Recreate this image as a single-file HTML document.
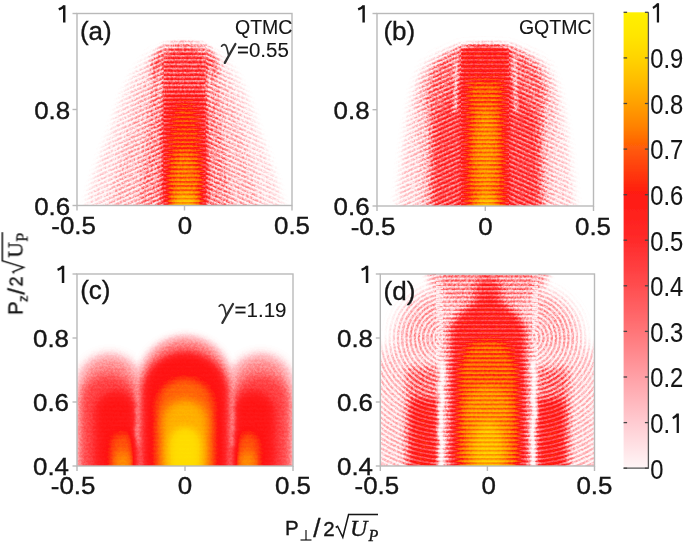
<!DOCTYPE html>
<html><head><meta charset="utf-8">
<style>
html,body{margin:0;padding:0;background:#fff;width:685px;height:544px;overflow:hidden}
svg{display:block}
text{font-family:"Liberation Sans",sans-serif;fill:#141414;stroke:#141414;stroke-width:0.35px}
text.th{stroke-width:0.1px}
text.si{font-family:"Liberation Serif",serif;font-style:italic}
text.sr{font-family:"Liberation Serif",serif}
</style></head><body>
<svg width="685" height="544" viewBox="0 0 685 544">
<defs>
  <linearGradient id="cbar" x1="0" y1="0" x2="0" y2="1"><stop offset="0" stop-color="#fff000"/><stop offset="0.05" stop-color="#ffe600"/><stop offset="0.1" stop-color="#ffd400"/><stop offset="0.15" stop-color="#ffbc00"/><stop offset="0.2" stop-color="#ffa000"/><stop offset="0.25" stop-color="#ff8200"/><stop offset="0.3" stop-color="#ff5a08"/><stop offset="0.35" stop-color="#ff3a0c"/><stop offset="0.4" stop-color="#ff1a12"/><stop offset="0.5" stop-color="#ff2a2a"/><stop offset="0.6" stop-color="#ff4d4f"/><stop offset="0.7" stop-color="#ff7578"/><stop offset="0.8" stop-color="#ffa0a6"/><stop offset="0.9" stop-color="#ffcbd1"/><stop offset="1" stop-color="#fff6f7"/></linearGradient>
  <clipPath id="cpa"><rect x="77" y="13" width="215" height="193"/></clipPath>
  <clipPath id="cpb"><rect x="377" y="13" width="217" height="193"/></clipPath>
  <clipPath id="cpc"><rect x="77" y="274" width="216" height="192"/></clipPath>
  <clipPath id="cpd"><rect x="380" y="274" width="215" height="192"/></clipPath>
<filter id="tblur" filterUnits="userSpaceOnUse" x="0" y="0" width="685" height="544"><feGaussianBlur stdDeviation="0.35"/></filter><filter id="cma" filterUnits="userSpaceOnUse" x="0" y="0" width="685" height="544" color-interpolation-filters="sRGB">
<feGaussianBlur in="SourceGraphic" stdDeviation="0.5" result="B0"/>
<feColorMatrix in="B0" type="matrix" values="1 0 0 0 0  1 0 0 0 0  1 0 0 0 0  0 0 0 0 1" result="I0"/>
<feColorMatrix in="B0" type="matrix" values="0 0 1.0 0 0  0 0 1.0 0 0  0 0 1.0 0 0  0 0 0 0 1" result="S"/>
<feColorMatrix in="B0" type="matrix" values="0 0 -1.0 0 1  0 0 -1.0 0 1  0 0 -1.0 0 1  0 0 0 0 1" result="Si"/>
<feTurbulence type="fractalNoise" baseFrequency="0.45" numOctaves="2" seed="3" result="T"/>
<feColorMatrix in="T" type="matrix" values="3 0 0 0 -1  3 0 0 0 -1  3 0 0 0 -1  0 0 0 0 1" result="N0"/>
<feColorMatrix in="N0" type="matrix" values="0.55 0 0 0 0.22499999999999998  0.55 0 0 0 0.22499999999999998  0.55 0 0 0 0.22499999999999998  0 0 0 0 1" result="N"/>
<feColorMatrix in="N0" type="matrix" values="-0.55 0 0 0 0.775  -0.55 0 0 0 0.775  -0.55 0 0 0 0.775  0 0 0 0 1" result="Ni"/>
<feComponentTransfer in="I0" result="H"><feFuncR type="table" tableValues="0 0.22 0.40 0.50 0.57 0.62 0.66 0.75 0.83 0.92 1.0"/><feFuncG type="table" tableValues="0 0.22 0.40 0.50 0.57 0.62 0.66 0.75 0.83 0.92 1.0"/><feFuncB type="table" tableValues="0 0.22 0.40 0.50 0.57 0.62 0.66 0.75 0.83 0.92 1.0"/><feFuncA type="linear" slope="0" intercept="1"/></feComponentTransfer>
<feComponentTransfer in="I0" result="L"><feFuncR type="table" tableValues="0 0.0 0.02 0.10 0.24 0.40 0.54 0.66 0.76 0.88 1.0"/><feFuncG type="table" tableValues="0 0.0 0.02 0.10 0.24 0.40 0.54 0.66 0.76 0.88 1.0"/><feFuncB type="table" tableValues="0 0.0 0.02 0.10 0.24 0.40 0.54 0.66 0.76 0.88 1.0"/><feFuncA type="linear" slope="0" intercept="1"/></feComponentTransfer>
<feComposite in="H" in2="N" operator="arithmetic" k1="1" k2="0" k3="0" k4="0" result="HN"/>
<feComposite in="L" in2="Ni" operator="arithmetic" k1="1" k2="0" k3="0" k4="0" result="LN"/>
<feComposite in="HN" in2="LN" operator="arithmetic" k1="0" k2="1" k3="1" k4="0" result="I1"/>
<feComponentTransfer in="I1" result="F"><feFuncR type="table" tableValues="0 0.02 0.06 0.12 0.2 0.3 0.42 0.6 0.72 0.82 0.9"/><feFuncG type="table" tableValues="0 0.02 0.06 0.12 0.2 0.3 0.42 0.6 0.72 0.82 0.9"/><feFuncB type="table" tableValues="0 0.02 0.06 0.12 0.2 0.3 0.42 0.6 0.72 0.82 0.9"/><feFuncA type="linear" slope="0" intercept="1"/></feComponentTransfer>
<feComponentTransfer in="I1" result="G"><feFuncR type="table" tableValues="0 0.14 0.26 0.37 0.47 0.56 0.64 0.74 0.84 0.93 1.0"/><feFuncG type="table" tableValues="0 0.14 0.26 0.37 0.47 0.56 0.64 0.74 0.84 0.93 1.0"/><feFuncB type="table" tableValues="0 0.14 0.26 0.37 0.47 0.56 0.64 0.74 0.84 0.93 1.0"/><feFuncA type="linear" slope="0" intercept="1"/></feComponentTransfer>
<feComposite in="F" in2="S" operator="arithmetic" k1="1" k2="0" k3="0" k4="0" result="A"/>
<feComposite in="G" in2="Si" operator="arithmetic" k1="1" k2="0" k3="0" k4="0" result="Bq"/>
<feComposite in="A" in2="Bq" operator="arithmetic" k1="0" k2="1" k3="1" k4="0" result="J"/>
<feComponentTransfer in="J"><feFuncR type="table" tableValues="1 1 1 1 1 1 1 1 1 1 1"/><feFuncG type="table" tableValues="1 0.80 0.64 0.46 0.30 0.16 0.07 0.34 0.62 0.83 0.95"/><feFuncB type="table" tableValues="1 0.82 0.65 0.47 0.31 0.17 0.07 0.04 0.0 0 0"/><feFuncA type="linear" slope="0" intercept="1"/></feComponentTransfer>
</filter><filter id="cmb" filterUnits="userSpaceOnUse" x="0" y="0" width="685" height="544" color-interpolation-filters="sRGB">
<feGaussianBlur in="SourceGraphic" stdDeviation="0.5" result="B0"/>
<feColorMatrix in="B0" type="matrix" values="1 0 0 0 0  1 0 0 0 0  1 0 0 0 0  0 0 0 0 1" result="I0"/>
<feColorMatrix in="B0" type="matrix" values="0 0 1.0 0 0  0 0 1.0 0 0  0 0 1.0 0 0  0 0 0 0 1" result="S"/>
<feColorMatrix in="B0" type="matrix" values="0 0 -1.0 0 1  0 0 -1.0 0 1  0 0 -1.0 0 1  0 0 0 0 1" result="Si"/>
<feTurbulence type="fractalNoise" baseFrequency="0.45" numOctaves="2" seed="5" result="T"/>
<feColorMatrix in="T" type="matrix" values="3 0 0 0 -1  3 0 0 0 -1  3 0 0 0 -1  0 0 0 0 1" result="N0"/>
<feColorMatrix in="N0" type="matrix" values="0.55 0 0 0 0.22499999999999998  0.55 0 0 0 0.22499999999999998  0.55 0 0 0 0.22499999999999998  0 0 0 0 1" result="N"/>
<feColorMatrix in="N0" type="matrix" values="-0.55 0 0 0 0.775  -0.55 0 0 0 0.775  -0.55 0 0 0 0.775  0 0 0 0 1" result="Ni"/>
<feComponentTransfer in="I0" result="H"><feFuncR type="table" tableValues="0 0.22 0.40 0.50 0.57 0.62 0.66 0.75 0.83 0.92 1.0"/><feFuncG type="table" tableValues="0 0.22 0.40 0.50 0.57 0.62 0.66 0.75 0.83 0.92 1.0"/><feFuncB type="table" tableValues="0 0.22 0.40 0.50 0.57 0.62 0.66 0.75 0.83 0.92 1.0"/><feFuncA type="linear" slope="0" intercept="1"/></feComponentTransfer>
<feComponentTransfer in="I0" result="L"><feFuncR type="table" tableValues="0 0.0 0.02 0.10 0.24 0.40 0.54 0.66 0.76 0.88 1.0"/><feFuncG type="table" tableValues="0 0.0 0.02 0.10 0.24 0.40 0.54 0.66 0.76 0.88 1.0"/><feFuncB type="table" tableValues="0 0.0 0.02 0.10 0.24 0.40 0.54 0.66 0.76 0.88 1.0"/><feFuncA type="linear" slope="0" intercept="1"/></feComponentTransfer>
<feComposite in="H" in2="N" operator="arithmetic" k1="1" k2="0" k3="0" k4="0" result="HN"/>
<feComposite in="L" in2="Ni" operator="arithmetic" k1="1" k2="0" k3="0" k4="0" result="LN"/>
<feComposite in="HN" in2="LN" operator="arithmetic" k1="0" k2="1" k3="1" k4="0" result="I1"/>
<feComponentTransfer in="I1" result="F"><feFuncR type="table" tableValues="0 0.02 0.06 0.12 0.2 0.3 0.42 0.6 0.72 0.82 0.9"/><feFuncG type="table" tableValues="0 0.02 0.06 0.12 0.2 0.3 0.42 0.6 0.72 0.82 0.9"/><feFuncB type="table" tableValues="0 0.02 0.06 0.12 0.2 0.3 0.42 0.6 0.72 0.82 0.9"/><feFuncA type="linear" slope="0" intercept="1"/></feComponentTransfer>
<feComponentTransfer in="I1" result="G"><feFuncR type="table" tableValues="0 0.14 0.26 0.37 0.47 0.56 0.64 0.74 0.84 0.93 1.0"/><feFuncG type="table" tableValues="0 0.14 0.26 0.37 0.47 0.56 0.64 0.74 0.84 0.93 1.0"/><feFuncB type="table" tableValues="0 0.14 0.26 0.37 0.47 0.56 0.64 0.74 0.84 0.93 1.0"/><feFuncA type="linear" slope="0" intercept="1"/></feComponentTransfer>
<feComposite in="F" in2="S" operator="arithmetic" k1="1" k2="0" k3="0" k4="0" result="A"/>
<feComposite in="G" in2="Si" operator="arithmetic" k1="1" k2="0" k3="0" k4="0" result="Bq"/>
<feComposite in="A" in2="Bq" operator="arithmetic" k1="0" k2="1" k3="1" k4="0" result="J"/>
<feComponentTransfer in="J"><feFuncR type="table" tableValues="1 1 1 1 1 1 1 1 1 1 1"/><feFuncG type="table" tableValues="1 0.80 0.64 0.46 0.30 0.16 0.07 0.34 0.62 0.83 0.95"/><feFuncB type="table" tableValues="1 0.82 0.65 0.47 0.31 0.17 0.07 0.04 0.0 0 0"/><feFuncA type="linear" slope="0" intercept="1"/></feComponentTransfer>
</filter><filter id="cmc" filterUnits="userSpaceOnUse" x="0" y="0" width="685" height="544" color-interpolation-filters="sRGB">
<feGaussianBlur in="SourceGraphic" stdDeviation="0.8" result="B0"/>
<feColorMatrix in="B0" type="matrix" values="1 0 0 0 0  1 0 0 0 0  1 0 0 0 0  0 0 0 0 1" result="I0"/>
<feColorMatrix in="B0" type="matrix" values="0 0 0.3 0 0  0 0 0.3 0 0  0 0 0.3 0 0  0 0 0 0 1" result="S"/>
<feColorMatrix in="B0" type="matrix" values="0 0 -0.3 0 1  0 0 -0.3 0 1  0 0 -0.3 0 1  0 0 0 0 1" result="Si"/>
<feTurbulence type="fractalNoise" baseFrequency="0.45" numOctaves="2" seed="7" result="T"/>
<feColorMatrix in="T" type="matrix" values="3 0 0 0 -1  3 0 0 0 -1  3 0 0 0 -1  0 0 0 0 1" result="N0"/>
<feColorMatrix in="N0" type="matrix" values="0.15 0 0 0 0.425  0.15 0 0 0 0.425  0.15 0 0 0 0.425  0 0 0 0 1" result="N"/>
<feColorMatrix in="N0" type="matrix" values="-0.15 0 0 0 0.575  -0.15 0 0 0 0.575  -0.15 0 0 0 0.575  0 0 0 0 1" result="Ni"/>
<feComponentTransfer in="I0" result="H"><feFuncR type="table" tableValues="0 0.22 0.40 0.50 0.57 0.62 0.66 0.75 0.83 0.92 1.0"/><feFuncG type="table" tableValues="0 0.22 0.40 0.50 0.57 0.62 0.66 0.75 0.83 0.92 1.0"/><feFuncB type="table" tableValues="0 0.22 0.40 0.50 0.57 0.62 0.66 0.75 0.83 0.92 1.0"/><feFuncA type="linear" slope="0" intercept="1"/></feComponentTransfer>
<feComponentTransfer in="I0" result="L"><feFuncR type="table" tableValues="0 0.0 0.02 0.10 0.24 0.40 0.54 0.66 0.76 0.88 1.0"/><feFuncG type="table" tableValues="0 0.0 0.02 0.10 0.24 0.40 0.54 0.66 0.76 0.88 1.0"/><feFuncB type="table" tableValues="0 0.0 0.02 0.10 0.24 0.40 0.54 0.66 0.76 0.88 1.0"/><feFuncA type="linear" slope="0" intercept="1"/></feComponentTransfer>
<feComposite in="H" in2="N" operator="arithmetic" k1="1" k2="0" k3="0" k4="0" result="HN"/>
<feComposite in="L" in2="Ni" operator="arithmetic" k1="1" k2="0" k3="0" k4="0" result="LN"/>
<feComposite in="HN" in2="LN" operator="arithmetic" k1="0" k2="1" k3="1" k4="0" result="I1"/>
<feComponentTransfer in="I1" result="F"><feFuncR type="table" tableValues="0 0.02 0.06 0.12 0.2 0.3 0.42 0.6 0.72 0.82 0.9"/><feFuncG type="table" tableValues="0 0.02 0.06 0.12 0.2 0.3 0.42 0.6 0.72 0.82 0.9"/><feFuncB type="table" tableValues="0 0.02 0.06 0.12 0.2 0.3 0.42 0.6 0.72 0.82 0.9"/><feFuncA type="linear" slope="0" intercept="1"/></feComponentTransfer>
<feComponentTransfer in="I1" result="G"><feFuncR type="table" tableValues="0 0.14 0.26 0.37 0.47 0.56 0.64 0.74 0.84 0.93 1.0"/><feFuncG type="table" tableValues="0 0.14 0.26 0.37 0.47 0.56 0.64 0.74 0.84 0.93 1.0"/><feFuncB type="table" tableValues="0 0.14 0.26 0.37 0.47 0.56 0.64 0.74 0.84 0.93 1.0"/><feFuncA type="linear" slope="0" intercept="1"/></feComponentTransfer>
<feComposite in="F" in2="S" operator="arithmetic" k1="1" k2="0" k3="0" k4="0" result="A"/>
<feComposite in="G" in2="Si" operator="arithmetic" k1="1" k2="0" k3="0" k4="0" result="Bq"/>
<feComposite in="A" in2="Bq" operator="arithmetic" k1="0" k2="1" k3="1" k4="0" result="J"/>
<feComponentTransfer in="J"><feFuncR type="table" tableValues="1 1 1 1 1 1 1 1 1 1 1"/><feFuncG type="table" tableValues="1 0.80 0.64 0.46 0.30 0.16 0.07 0.34 0.62 0.83 0.95"/><feFuncB type="table" tableValues="1 0.82 0.65 0.47 0.31 0.17 0.07 0.04 0.0 0 0"/><feFuncA type="linear" slope="0" intercept="1"/></feComponentTransfer>
</filter><filter id="cmd" filterUnits="userSpaceOnUse" x="0" y="0" width="685" height="544" color-interpolation-filters="sRGB">
<feGaussianBlur in="SourceGraphic" stdDeviation="0.5" result="B0"/>
<feColorMatrix in="B0" type="matrix" values="1 0 0 0 0  1 0 0 0 0  1 0 0 0 0  0 0 0 0 1" result="I0"/>
<feColorMatrix in="B0" type="matrix" values="0 0 1.0 0 0  0 0 1.0 0 0  0 0 1.0 0 0  0 0 0 0 1" result="S"/>
<feColorMatrix in="B0" type="matrix" values="0 0 -1.0 0 1  0 0 -1.0 0 1  0 0 -1.0 0 1  0 0 0 0 1" result="Si"/>
<feTurbulence type="fractalNoise" baseFrequency="0.45" numOctaves="2" seed="9" result="T"/>
<feColorMatrix in="T" type="matrix" values="3 0 0 0 -1  3 0 0 0 -1  3 0 0 0 -1  0 0 0 0 1" result="N0"/>
<feColorMatrix in="N0" type="matrix" values="0.45 0 0 0 0.275  0.45 0 0 0 0.275  0.45 0 0 0 0.275  0 0 0 0 1" result="N"/>
<feColorMatrix in="N0" type="matrix" values="-0.45 0 0 0 0.725  -0.45 0 0 0 0.725  -0.45 0 0 0 0.725  0 0 0 0 1" result="Ni"/>
<feComponentTransfer in="I0" result="H"><feFuncR type="table" tableValues="0 0.22 0.40 0.50 0.57 0.62 0.66 0.75 0.83 0.92 1.0"/><feFuncG type="table" tableValues="0 0.22 0.40 0.50 0.57 0.62 0.66 0.75 0.83 0.92 1.0"/><feFuncB type="table" tableValues="0 0.22 0.40 0.50 0.57 0.62 0.66 0.75 0.83 0.92 1.0"/><feFuncA type="linear" slope="0" intercept="1"/></feComponentTransfer>
<feComponentTransfer in="I0" result="L"><feFuncR type="table" tableValues="0 0.0 0.02 0.10 0.24 0.40 0.54 0.66 0.76 0.88 1.0"/><feFuncG type="table" tableValues="0 0.0 0.02 0.10 0.24 0.40 0.54 0.66 0.76 0.88 1.0"/><feFuncB type="table" tableValues="0 0.0 0.02 0.10 0.24 0.40 0.54 0.66 0.76 0.88 1.0"/><feFuncA type="linear" slope="0" intercept="1"/></feComponentTransfer>
<feComposite in="H" in2="N" operator="arithmetic" k1="1" k2="0" k3="0" k4="0" result="HN"/>
<feComposite in="L" in2="Ni" operator="arithmetic" k1="1" k2="0" k3="0" k4="0" result="LN"/>
<feComposite in="HN" in2="LN" operator="arithmetic" k1="0" k2="1" k3="1" k4="0" result="I1"/>
<feComponentTransfer in="I1" result="F"><feFuncR type="table" tableValues="0 0.02 0.06 0.12 0.2 0.3 0.42 0.6 0.72 0.82 0.9"/><feFuncG type="table" tableValues="0 0.02 0.06 0.12 0.2 0.3 0.42 0.6 0.72 0.82 0.9"/><feFuncB type="table" tableValues="0 0.02 0.06 0.12 0.2 0.3 0.42 0.6 0.72 0.82 0.9"/><feFuncA type="linear" slope="0" intercept="1"/></feComponentTransfer>
<feComponentTransfer in="I1" result="G"><feFuncR type="table" tableValues="0 0.14 0.26 0.37 0.47 0.56 0.64 0.74 0.84 0.93 1.0"/><feFuncG type="table" tableValues="0 0.14 0.26 0.37 0.47 0.56 0.64 0.74 0.84 0.93 1.0"/><feFuncB type="table" tableValues="0 0.14 0.26 0.37 0.47 0.56 0.64 0.74 0.84 0.93 1.0"/><feFuncA type="linear" slope="0" intercept="1"/></feComponentTransfer>
<feComposite in="F" in2="S" operator="arithmetic" k1="1" k2="0" k3="0" k4="0" result="A"/>
<feComposite in="G" in2="Si" operator="arithmetic" k1="1" k2="0" k3="0" k4="0" result="Bq"/>
<feComposite in="A" in2="Bq" operator="arithmetic" k1="0" k2="1" k3="1" k4="0" result="J"/>
<feComponentTransfer in="J"><feFuncR type="table" tableValues="1 1 1 1 1 1 1 1 1 1 1"/><feFuncG type="table" tableValues="1 0.80 0.64 0.46 0.30 0.16 0.07 0.34 0.62 0.83 0.95"/><feFuncB type="table" tableValues="1 0.82 0.65 0.47 0.31 0.17 0.07 0.04 0.0 0 0"/><feFuncA type="linear" slope="0" intercept="1"/></feComponentTransfer>
</filter><clipPath id="cpdl"><rect x="370" y="270" width="73" height="200"/></clipPath><clipPath id="cpdr"><rect x="532" y="270" width="80" height="200"/></clipPath><pattern id="phs" x="0" y="0.3" width="10" height="4.2" patternUnits="userSpaceOnUse"><rect x="0" y="0" width="10" height="2" fill="#00f"/></pattern><pattern id="pdl" x="0" y="0" width="10" height="4.2" patternUnits="userSpaceOnUse" patternTransform="rotate(-24)"><rect x="0" y="0" width="10" height="2" fill="#00f"/></pattern><pattern id="pdr" x="0" y="0" width="10" height="4.2" patternUnits="userSpaceOnUse" patternTransform="rotate(24)"><rect x="0" y="0" width="10" height="2" fill="#00f"/></pattern><filter id="b1" filterUnits="userSpaceOnUse" x="0" y="0" width="685" height="544" color-interpolation-filters="sRGB"><feGaussianBlur stdDeviation="1"/></filter><filter id="b1.5" filterUnits="userSpaceOnUse" x="0" y="0" width="685" height="544" color-interpolation-filters="sRGB"><feGaussianBlur stdDeviation="1.5"/></filter><filter id="b2" filterUnits="userSpaceOnUse" x="0" y="0" width="685" height="544" color-interpolation-filters="sRGB"><feGaussianBlur stdDeviation="2"/></filter><filter id="b3" filterUnits="userSpaceOnUse" x="0" y="0" width="685" height="544" color-interpolation-filters="sRGB"><feGaussianBlur stdDeviation="3"/></filter><filter id="b4" filterUnits="userSpaceOnUse" x="0" y="0" width="685" height="544" color-interpolation-filters="sRGB"><feGaussianBlur stdDeviation="4"/></filter><filter id="b5" filterUnits="userSpaceOnUse" x="0" y="0" width="685" height="544" color-interpolation-filters="sRGB"><feGaussianBlur stdDeviation="5"/></filter><filter id="b6" filterUnits="userSpaceOnUse" x="0" y="0" width="685" height="544" color-interpolation-filters="sRGB"><feGaussianBlur stdDeviation="6"/></filter><filter id="b7" filterUnits="userSpaceOnUse" x="0" y="0" width="685" height="544" color-interpolation-filters="sRGB"><feGaussianBlur stdDeviation="7"/></filter><filter id="b8" filterUnits="userSpaceOnUse" x="0" y="0" width="685" height="544" color-interpolation-filters="sRGB"><feGaussianBlur stdDeviation="8"/></filter><filter id="b9" filterUnits="userSpaceOnUse" x="0" y="0" width="685" height="544" color-interpolation-filters="sRGB"><feGaussianBlur stdDeviation="9"/></filter><filter id="b10" filterUnits="userSpaceOnUse" x="0" y="0" width="685" height="544" color-interpolation-filters="sRGB"><feGaussianBlur stdDeviation="10"/></filter>
</defs>
<g clip-path="url(#cpa)"><g filter="url(#cma)">
<rect x="57" y="-7" width="255" height="233" fill="#000"/>
<path filter="url(#b4)" d="M160.5,47 Q184.5,41 208.5,47 L221.5,56 L235.5,74 L245.5,94 L252.5,113 L257.5,130 L265.5,150 L275.5,180 L282.5,206 L282.5,212 L86.5,212 L86.5,206 L93.5,180 L103.5,150 L111.5,130 L116.5,113 L123.5,94 L133.5,74 L147.5,56 Z" fill="rgb(15,15,15)"/>
<path filter="url(#b4)" d="M163.5,48 Q184.5,42 205.5,48 L213.5,58 L222.5,76 L230.5,94 L236.5,113 L240.5,130 L246.5,150 L253.5,180 L259.5,206 L259.5,212 L109.5,212 L109.5,206 L115.5,180 L122.5,150 L128.5,130 L132.5,113 L138.5,94 L146.5,76 L155.5,58 Z" fill="rgb(33,33,33)"/>
<path filter="url(#b3)" d="M164.5,47 Q184.5,41 204.5,47 L209.5,52 L212.5,60 L215.5,80 L218.5,100 L221.5,130 L225.5,160 L229.5,206 L229.5,212 L139.5,212 L139.5,206 L143.5,160 L147.5,130 L150.5,100 L153.5,80 L156.5,60 L159.5,52 Z" fill="rgb(64,64,64)"/>
<ellipse filter="url(#b3)" cx="184.5" cy="68" rx="33" ry="22" fill="rgb(87,87,87)"/>
<path filter="url(#b1.5)" d="M160,68 L160.5,112" fill="none" stroke="rgb(31,31,31)" stroke-width="3"/>
<path filter="url(#b1.5)" d="M209.5,68 L209,112" fill="none" stroke="rgb(31,31,31)" stroke-width="3"/>
<path filter="url(#b2)" d="M163.5,212 L163.5,64 A21.0,14 0 0 1 205.5,64 L205.5,212 Z" fill="rgb(117,117,117)"/>
<path filter="url(#b4)" d="M164,95 L205,95 L206,212 L163,212 Z" fill="rgb(148,148,148)"/>
<ellipse filter="url(#b5)" cx="185" cy="165" rx="17" ry="65" fill="rgb(173,173,173)"/>
<ellipse filter="url(#b5)" cx="185" cy="185" rx="14" ry="36" fill="rgb(194,194,194)"/>
<ellipse filter="url(#b4)" cx="185" cy="204" rx="13" ry="12" fill="rgb(217,217,217)"/>
<rect x="57" y="-7" width="255" height="233" fill="#ffff00" style="mix-blend-mode:multiply"/>
<g style="mix-blend-mode:screen">
<rect x="60" y="0" width="103.5" height="230" fill="url(#pdl)"/>
<rect x="163.5" y="0" width="42" height="230" fill="url(#phs)"/>
<rect x="205.5" y="0" width="110" height="230" fill="url(#pdr)"/>
</g>
</g></g>
<g clip-path="url(#cpb)"><g filter="url(#cmb)">
<rect x="357" y="-7" width="257" height="233" fill="#000"/>
<path filter="url(#b5)" d="M456,47 Q486,41 516,47 L532.0,53 L548.0,66 L554.0,79 L558.0,92 L561.0,106 L565.0,130 L569.0,160 L574.0,206 L574.0,212 L398.0,212 L398.0,206 L403.0,160 L407.0,130 L411.0,106 L414.0,92 L418.0,79 L424.0,66 L440.0,53 Z" fill="rgb(20,20,20)"/>
<path filter="url(#b3)" d="M458,48 Q486,42 514,48 L526.0,54 L542.0,66 L549.0,79 L553.0,92 L554.0,106 L553.0,130 L552.0,206 L552.0,212 L420.0,212 L420.0,206 L419.0,130 L418.0,106 L419.0,92 L423.0,79 L430.0,66 L446.0,54 Z" fill="rgb(36,36,36)"/>
<path filter="url(#b3)" d="M459,49 Q486,43 513,49 L524.0,56 L536.0,66 L542.0,79 L545.0,92 L544.0,106 L541.0,130 L539.0,206 L539.0,212 L433.0,212 L433.0,206 L431.0,130 L428.0,106 L427.0,92 L430.0,79 L436.0,66 L448.0,56 Z" fill="rgb(87,87,87)"/>
<path filter="url(#b5)" d="M456,80 L516,80 L538,120 L541,212 L431,212 L434,120 Z" fill="rgb(117,117,117)"/>
<path filter="url(#b1.5)" d="M456.5,56 L455,112" fill="none" stroke="rgb(31,31,31)" stroke-width="3"/>
<path filter="url(#b1.5)" d="M514.5,56 L516,112" fill="none" stroke="rgb(31,31,31)" stroke-width="3"/>
<path filter="url(#b2)" d="M461,212 L461,50 A24.0,4 0 0 1 509,50 L509,212 Z" fill="rgb(148,148,148)"/>
<path filter="url(#b4)" d="M469,80 L502,80 L504,212 L467,212 Z" fill="rgb(186,186,186)"/>
<ellipse filter="url(#b5)" cx="486" cy="155" rx="11" ry="50" fill="rgb(204,204,204)"/>
<ellipse filter="url(#b4)" cx="486" cy="205" rx="11" ry="10" fill="rgb(219,219,219)"/>
<rect x="357" y="-7" width="257" height="233" fill="#ffff00" style="mix-blend-mode:multiply"/>
<g style="mix-blend-mode:screen">
<rect x="360" y="0" width="101" height="230" fill="url(#pdl)"/>
<rect x="461" y="0" width="48" height="230" fill="url(#phs)"/>
<rect x="509" y="0" width="110" height="230" fill="url(#pdr)"/>
</g>
</g></g>
<g clip-path="url(#cpc)"><g filter="url(#cmc)">
<rect x="57" y="254" width="256" height="232" fill="#000"/>
<path filter="url(#b6)" d="M79,475 L79,386 A30.5,30 0 0 1 140,386 L140,475 Z" fill="rgb(56,56,56)"/>
<path filter="url(#b5)" d="M81,475 L81,402 A28.0,28 0 0 1 137,402 L137,475 Z" fill="rgb(102,102,102)"/>
<path filter="url(#b4)" d="M96,475 L96,412 A20.0,20 0 0 1 136,412 L136,475 Z" fill="rgb(145,145,145)"/>
<path filter="url(#b5)" d="M110,475 L110,444 A12.0,12 0 0 1 134,444 L134,475 Z" fill="rgb(173,173,173)"/>
<path filter="url(#b4)" d="M115,475 L115,460 A8.0,8 0 0 1 131,460 L131,475 Z" fill="rgb(194,194,194)"/>
<path filter="url(#b6)" d="M230,475 L230,386 A30.5,30 0 0 1 291,386 L291,475 Z" fill="rgb(56,56,56)"/>
<path filter="url(#b5)" d="M233,475 L233,402 A28.0,28 0 0 1 289,402 L289,475 Z" fill="rgb(102,102,102)"/>
<path filter="url(#b4)" d="M234,475 L234,412 A20.0,20 0 0 1 274,412 L274,475 Z" fill="rgb(145,145,145)"/>
<path filter="url(#b5)" d="M236,475 L236,444 A12.0,12 0 0 1 260,444 L260,475 Z" fill="rgb(173,173,173)"/>
<path filter="url(#b4)" d="M239,475 L239,460 A8.0,8 0 0 1 255,460 L255,475 Z" fill="rgb(194,194,194)"/>
<path filter="url(#b1.5)" d="M138.3,378.0 L138.9,382.2 L139.7,386.4 L137.4,390.6 L140.7,394.8 L137.3,399.0 L139.9,403.2 L140.2,407.4 L137.3,411.6 L140.0,415.8 L138.5,420.0 L139.3,424.2 L137.2,428.4 L137.4,432.6 L137.9,436.8 L140.6,441.0 L137.9,445.2" fill="none" stroke="rgb(31,31,31)" stroke-width="4"/>
<path filter="url(#b1.5)" d="M231.9,378.0 L232.5,382.2 L232.6,386.4 L230.4,390.6 L230.5,394.8 L231.1,399.0 L232.0,403.2 L229.6,407.4 L231.9,411.6 L232.1,415.8 L232.3,420.0 L229.3,424.2 L232.6,428.4 L229.5,432.6 L230.4,436.8 L231.4,441.0 L232.5,445.2" fill="none" stroke="rgb(31,31,31)" stroke-width="4"/>
<path filter="url(#b5)" d="M140,475 L140,383 A45.0,45 0 0 1 230,383 L230,475 Z" fill="rgb(64,64,64)"/>
<path filter="url(#b4)" d="M142,475 L142,394 A43.0,42 0 0 1 228,394 L228,475 Z" fill="rgb(148,148,148)"/>
<path filter="url(#b5)" d="M156,475 L156,407 A29.0,29 0 0 1 214,407 L214,475 Z" fill="rgb(178,178,178)"/>
<path filter="url(#b5)" d="M163,475 L163,422 A22.0,22 0 0 1 207,422 L207,475 Z" fill="rgb(209,209,209)"/>
<path filter="url(#b5)" d="M170,475 L170,443 A15.0,15 0 0 1 200,443 L200,475 Z" fill="rgb(237,237,237)"/>
<rect x="57" y="254" width="256" height="232" fill="#ffff00" style="mix-blend-mode:multiply"/>
<g style="mix-blend-mode:screen">
<rect x="60" y="260" width="250" height="220" fill="url(#phs)"/>
</g>
</g></g>
<g clip-path="url(#cpd)"><g filter="url(#cmd)">
<rect x="360" y="254" width="255" height="232" fill="#000"/>
<ellipse filter="url(#b8)" cx="446" cy="340" rx="50" ry="50" fill="rgb(38,38,38)"/>
<ellipse filter="url(#b8)" cx="529" cy="340" rx="50" ry="50" fill="rgb(38,38,38)"/>
<rect filter="url(#b8)" x="375" y="350" width="225" height="130" fill="rgb(26,26,26)"/>
<rect filter="url(#b4)" x="407" y="368" width="32" height="110" fill="rgb(87,87,87)"/>
<rect filter="url(#b4)" x="536" y="368" width="32" height="110" fill="rgb(87,87,87)"/>
<rect filter="url(#b5)" x="410" y="400" width="27" height="80" fill="rgb(148,148,148)"/>
<rect filter="url(#b5)" x="538" y="400" width="27" height="80" fill="rgb(148,148,148)"/>
<ellipse filter="url(#b5)" cx="488" cy="270" rx="58" ry="38" fill="rgb(64,64,64)"/>
<ellipse filter="url(#b4)" cx="488" cy="291" rx="14" ry="14" fill="rgb(128,128,128)"/>
<path filter="url(#b4)" d="M478,300 C484,296 492,296 498,300 L516,312 L526,328 L528,470 L448,470 L450,328 L460,312 Z" fill="rgb(148,148,148)"/>
<path filter="url(#b5)" d="M468,344 C478,338 498,338 508,344 L517,368 L519,470 L457,470 L459,368 Z" fill="rgb(186,186,186)"/>
<path filter="url(#b5)" d="M466,475 L466,407 A22.0,22 0 0 1 510,407 L510,475 Z" fill="rgb(204,204,204)"/>
<ellipse filter="url(#b5)" cx="488" cy="452" rx="15" ry="32" fill="rgb(222,222,222)"/>
<path filter="url(#b1)" d="M441.9,362.0 L442.2,366.2 L442.4,370.4 L442.8,374.6 L442.2,378.8 L442.8,383.0 L440.1,387.2 L441.4,391.4 L442.8,395.6 L441.9,399.8 L442.7,404.0 L440.3,408.2 L441.4,412.4 L440.7,416.6 L441.6,420.8 L441.7,425.0 L440.0,429.2 L440.7,433.4 L440.8,437.6 L442.7,441.8 L442.3,446.0 L440.5,450.2 L442.4,454.4 L440.4,458.6 L441.9,462.8 L440.4,467.0 L440.0,471.2" fill="none" stroke="rgb(8,8,8)" stroke-width="5"/>
<path filter="url(#b1)" d="M534.6,362.0 L532.6,366.2 L532.6,370.4 L534.9,374.6 L534.6,378.8 L532.9,383.0 L534.9,387.2 L533.6,391.4 L534.0,395.6 L532.6,399.8 L534.8,404.0 L534.1,408.2 L534.9,412.4 L534.7,416.6 L532.9,420.8 L533.1,425.0 L532.5,429.2 L532.4,433.4 L532.2,437.6 L532.9,441.8 L533.8,446.0 L532.0,450.2 L534.0,454.4 L533.0,458.6 L532.9,462.8 L534.5,467.0 L533.4,471.2" fill="none" stroke="rgb(8,8,8)" stroke-width="5"/>
<rect x="360" y="254" width="255" height="232" fill="#ffff00" style="mix-blend-mode:multiply"/>
<g style="mix-blend-mode:screen">
<rect x="436" y="260" width="102" height="220" fill="url(#phs)"/>
<g clip-path="url(#cpdl)">
<circle cx="446" cy="338" r="4.0" fill="none" stroke="#00f" stroke-width="2.0"/>
<circle cx="446" cy="338" r="8.2" fill="none" stroke="#00f" stroke-width="2.0"/>
<circle cx="446" cy="338" r="12.4" fill="none" stroke="#00f" stroke-width="2.0"/>
<circle cx="446" cy="338" r="16.6" fill="none" stroke="#00f" stroke-width="2.0"/>
<circle cx="446" cy="338" r="20.8" fill="none" stroke="#00f" stroke-width="2.0"/>
<circle cx="446" cy="338" r="25.0" fill="none" stroke="#00f" stroke-width="2.0"/>
<circle cx="446" cy="338" r="29.2" fill="none" stroke="#00f" stroke-width="2.0"/>
<circle cx="446" cy="338" r="33.4" fill="none" stroke="#00f" stroke-width="2.0"/>
<circle cx="446" cy="338" r="37.6" fill="none" stroke="#00f" stroke-width="2.0"/>
<circle cx="446" cy="338" r="41.8" fill="none" stroke="#00f" stroke-width="2.0"/>
<circle cx="446" cy="338" r="46.0" fill="none" stroke="#00f" stroke-width="2.0"/>
<circle cx="446" cy="338" r="50.2" fill="none" stroke="#00f" stroke-width="2.0"/>
<circle cx="446" cy="338" r="54.4" fill="none" stroke="#00f" stroke-width="2.0"/>
<circle cx="446" cy="338" r="58.6" fill="none" stroke="#00f" stroke-width="2.0"/>
<circle cx="446" cy="338" r="62.8" fill="none" stroke="#00f" stroke-width="2.0"/>
<circle cx="446" cy="338" r="67.0" fill="none" stroke="#00f" stroke-width="2.0"/>
<circle cx="446" cy="338" r="71.2" fill="none" stroke="#00f" stroke-width="2.0"/>
<circle cx="446" cy="338" r="75.4" fill="none" stroke="#00f" stroke-width="2.0"/>
<circle cx="446" cy="338" r="79.6" fill="none" stroke="#00f" stroke-width="2.0"/>
<circle cx="446" cy="338" r="83.8" fill="none" stroke="#00f" stroke-width="2.0"/>
<circle cx="446" cy="338" r="88.0" fill="none" stroke="#00f" stroke-width="2.0"/>
<circle cx="446" cy="338" r="92.2" fill="none" stroke="#00f" stroke-width="2.0"/>
<circle cx="446" cy="338" r="96.4" fill="none" stroke="#00f" stroke-width="2.0"/>
<circle cx="446" cy="338" r="100.6" fill="none" stroke="#00f" stroke-width="2.0"/>
<circle cx="446" cy="338" r="104.8" fill="none" stroke="#00f" stroke-width="2.0"/>
<circle cx="446" cy="338" r="109.0" fill="none" stroke="#00f" stroke-width="2.0"/>
<circle cx="446" cy="338" r="113.2" fill="none" stroke="#00f" stroke-width="2.0"/>
<circle cx="446" cy="338" r="117.4" fill="none" stroke="#00f" stroke-width="2.0"/>
<circle cx="446" cy="338" r="121.6" fill="none" stroke="#00f" stroke-width="2.0"/>
<circle cx="446" cy="338" r="125.8" fill="none" stroke="#00f" stroke-width="2.0"/>
<circle cx="446" cy="338" r="130.0" fill="none" stroke="#00f" stroke-width="2.0"/>
<circle cx="446" cy="338" r="134.2" fill="none" stroke="#00f" stroke-width="2.0"/>
<circle cx="446" cy="338" r="138.4" fill="none" stroke="#00f" stroke-width="2.0"/>
</g>
<g clip-path="url(#cpdr)">
<circle cx="529" cy="338" r="4.0" fill="none" stroke="#00f" stroke-width="2.0"/>
<circle cx="529" cy="338" r="8.2" fill="none" stroke="#00f" stroke-width="2.0"/>
<circle cx="529" cy="338" r="12.4" fill="none" stroke="#00f" stroke-width="2.0"/>
<circle cx="529" cy="338" r="16.6" fill="none" stroke="#00f" stroke-width="2.0"/>
<circle cx="529" cy="338" r="20.8" fill="none" stroke="#00f" stroke-width="2.0"/>
<circle cx="529" cy="338" r="25.0" fill="none" stroke="#00f" stroke-width="2.0"/>
<circle cx="529" cy="338" r="29.2" fill="none" stroke="#00f" stroke-width="2.0"/>
<circle cx="529" cy="338" r="33.4" fill="none" stroke="#00f" stroke-width="2.0"/>
<circle cx="529" cy="338" r="37.6" fill="none" stroke="#00f" stroke-width="2.0"/>
<circle cx="529" cy="338" r="41.8" fill="none" stroke="#00f" stroke-width="2.0"/>
<circle cx="529" cy="338" r="46.0" fill="none" stroke="#00f" stroke-width="2.0"/>
<circle cx="529" cy="338" r="50.2" fill="none" stroke="#00f" stroke-width="2.0"/>
<circle cx="529" cy="338" r="54.4" fill="none" stroke="#00f" stroke-width="2.0"/>
<circle cx="529" cy="338" r="58.6" fill="none" stroke="#00f" stroke-width="2.0"/>
<circle cx="529" cy="338" r="62.8" fill="none" stroke="#00f" stroke-width="2.0"/>
<circle cx="529" cy="338" r="67.0" fill="none" stroke="#00f" stroke-width="2.0"/>
<circle cx="529" cy="338" r="71.2" fill="none" stroke="#00f" stroke-width="2.0"/>
<circle cx="529" cy="338" r="75.4" fill="none" stroke="#00f" stroke-width="2.0"/>
<circle cx="529" cy="338" r="79.6" fill="none" stroke="#00f" stroke-width="2.0"/>
<circle cx="529" cy="338" r="83.8" fill="none" stroke="#00f" stroke-width="2.0"/>
<circle cx="529" cy="338" r="88.0" fill="none" stroke="#00f" stroke-width="2.0"/>
<circle cx="529" cy="338" r="92.2" fill="none" stroke="#00f" stroke-width="2.0"/>
<circle cx="529" cy="338" r="96.4" fill="none" stroke="#00f" stroke-width="2.0"/>
<circle cx="529" cy="338" r="100.6" fill="none" stroke="#00f" stroke-width="2.0"/>
<circle cx="529" cy="338" r="104.8" fill="none" stroke="#00f" stroke-width="2.0"/>
<circle cx="529" cy="338" r="109.0" fill="none" stroke="#00f" stroke-width="2.0"/>
<circle cx="529" cy="338" r="113.2" fill="none" stroke="#00f" stroke-width="2.0"/>
<circle cx="529" cy="338" r="117.4" fill="none" stroke="#00f" stroke-width="2.0"/>
<circle cx="529" cy="338" r="121.6" fill="none" stroke="#00f" stroke-width="2.0"/>
<circle cx="529" cy="338" r="125.8" fill="none" stroke="#00f" stroke-width="2.0"/>
<circle cx="529" cy="338" r="130.0" fill="none" stroke="#00f" stroke-width="2.0"/>
<circle cx="529" cy="338" r="134.2" fill="none" stroke="#00f" stroke-width="2.0"/>
<circle cx="529" cy="338" r="138.4" fill="none" stroke="#00f" stroke-width="2.0"/>
</g>
</g>
</g></g>
<g filter="url(#tblur)"><path d="M64.24,22.50 L64.24,5.32 M64.34,5.70 Q62.27,8.10 58.77,9.42" fill="none" stroke="#141414" stroke-width="2.44"/>
<text transform="translate(70.2,118.7) scale(1.08,1)" font-size="24" text-anchor="end">0.8</text>
<text transform="translate(70.2,214.5) scale(1.08,1)" font-size="24" text-anchor="end">0.6</text>
<path d="M363.64,22.50 L363.64,5.32 M363.74,5.70 Q361.67,8.10 358.17,9.42" fill="none" stroke="#141414" stroke-width="2.44"/>
<text transform="translate(369.6,118.7) scale(1.08,1)" font-size="24" text-anchor="end">0.8</text>
<text transform="translate(369.6,214.8) scale(1.08,1)" font-size="24" text-anchor="end">0.6</text>
<path d="M63.04,283.00 L63.04,265.82 M63.14,266.20 Q61.07,268.60 57.57,269.92" fill="none" stroke="#141414" stroke-width="2.44"/>
<text transform="translate(69.0,347) scale(1.08,1)" font-size="24" text-anchor="end">0.8</text>
<text transform="translate(69.0,411) scale(1.08,1)" font-size="24" text-anchor="end">0.6</text>
<text transform="translate(69.0,475) scale(1.08,1)" font-size="24" text-anchor="end">0.4</text>
<path d="M367.04,283.00 L367.04,265.82 M367.14,266.20 Q365.07,268.60 361.57,269.92" fill="none" stroke="#141414" stroke-width="2.44"/>
<text transform="translate(373.0,347) scale(1.08,1)" font-size="24" text-anchor="end">0.8</text>
<text transform="translate(373.0,411) scale(1.08,1)" font-size="24" text-anchor="end">0.6</text>
<text transform="translate(373.0,475) scale(1.08,1)" font-size="24" text-anchor="end">0.4</text>
<text transform="translate(73.6,234.3) scale(1.08,1)" font-size="24" text-anchor="middle">-0.5</text>
<text transform="translate(185,234.3) scale(1.08,1)" font-size="24" text-anchor="middle">0</text>
<text transform="translate(292,234.3) scale(1.08,1)" font-size="24" text-anchor="middle">0.5</text>
<text transform="translate(373,234.5) scale(1.08,1)" font-size="24" text-anchor="middle">-0.5</text>
<text transform="translate(485.4,234.5) scale(1.08,1)" font-size="24" text-anchor="middle">0</text>
<text transform="translate(593,234.5) scale(1.08,1)" font-size="24" text-anchor="middle">0.5</text>
<text transform="translate(73.1,494.3) scale(1.08,1)" font-size="24" text-anchor="middle">-0.5</text>
<text transform="translate(185,494.2) scale(1.08,1)" font-size="24" text-anchor="middle">0</text>
<text transform="translate(293,494.2) scale(1.08,1)" font-size="24" text-anchor="middle">0.5</text>
<text transform="translate(376.9,494.3) scale(1.08,1)" font-size="24" text-anchor="middle">-0.5</text>
<text transform="translate(488.6,494.3) scale(1.08,1)" font-size="24" text-anchor="middle">0</text>
<text transform="translate(594.4,494.3) scale(1.08,1)" font-size="24" text-anchor="middle">0.5</text>
<rect x="77" y="13.5" width="215" height="192.0" fill="none" stroke="#b9b9b9" stroke-width="1.4"/>
<line x1="72.5" y1="13.5" x2="77" y2="13.5" stroke="#b9b9b9" stroke-width="1.4"/>
<line x1="72.5" y1="109.5" x2="77" y2="109.5" stroke="#b9b9b9" stroke-width="1.4"/>
<line x1="72.5" y1="205.5" x2="77" y2="205.5" stroke="#b9b9b9" stroke-width="1.4"/>
<line x1="77" y1="205.5" x2="77" y2="210.5" stroke="#b9b9b9" stroke-width="1.4"/>
<line x1="184.5" y1="205.5" x2="184.5" y2="210.5" stroke="#b9b9b9" stroke-width="1.4"/>
<line x1="292" y1="205.5" x2="292" y2="210.5" stroke="#b9b9b9" stroke-width="1.4"/>
<rect x="377" y="13.5" width="216.5" height="192.5" fill="none" stroke="#b9b9b9" stroke-width="1.4"/>
<line x1="372.5" y1="13.5" x2="377" y2="13.5" stroke="#b9b9b9" stroke-width="1.4"/>
<line x1="372.5" y1="109.7" x2="377" y2="109.7" stroke="#b9b9b9" stroke-width="1.4"/>
<line x1="372.5" y1="206" x2="377" y2="206" stroke="#b9b9b9" stroke-width="1.4"/>
<line x1="377" y1="206" x2="377" y2="211" stroke="#b9b9b9" stroke-width="1.4"/>
<line x1="485.3" y1="206" x2="485.3" y2="211" stroke="#b9b9b9" stroke-width="1.4"/>
<line x1="593.5" y1="206" x2="593.5" y2="211" stroke="#b9b9b9" stroke-width="1.4"/>
<rect x="77" y="274" width="216" height="192" fill="none" stroke="#b9b9b9" stroke-width="1.4"/>
<line x1="72.5" y1="274" x2="77" y2="274" stroke="#b9b9b9" stroke-width="1.4"/>
<line x1="72.5" y1="338" x2="77" y2="338" stroke="#b9b9b9" stroke-width="1.4"/>
<line x1="72.5" y1="402" x2="77" y2="402" stroke="#b9b9b9" stroke-width="1.4"/>
<line x1="72.5" y1="466" x2="77" y2="466" stroke="#b9b9b9" stroke-width="1.4"/>
<line x1="77" y1="466" x2="77" y2="471" stroke="#b9b9b9" stroke-width="1.4"/>
<line x1="185" y1="466" x2="185" y2="471" stroke="#b9b9b9" stroke-width="1.4"/>
<line x1="293" y1="466" x2="293" y2="471" stroke="#b9b9b9" stroke-width="1.4"/>
<rect x="380.3" y="274" width="214.2" height="192" fill="none" stroke="#b9b9b9" stroke-width="1.4"/>
<line x1="375.8" y1="274" x2="380.3" y2="274" stroke="#b9b9b9" stroke-width="1.4"/>
<line x1="375.8" y1="338" x2="380.3" y2="338" stroke="#b9b9b9" stroke-width="1.4"/>
<line x1="375.8" y1="402" x2="380.3" y2="402" stroke="#b9b9b9" stroke-width="1.4"/>
<line x1="375.8" y1="466" x2="380.3" y2="466" stroke="#b9b9b9" stroke-width="1.4"/>
<line x1="380.3" y1="466" x2="380.3" y2="471" stroke="#b9b9b9" stroke-width="1.4"/>
<line x1="487.4" y1="466" x2="487.4" y2="471" stroke="#b9b9b9" stroke-width="1.4"/>
<line x1="594.5" y1="466" x2="594.5" y2="471" stroke="#b9b9b9" stroke-width="1.4"/>
<rect x="623.6" y="12.3" width="24.799999999999955" height="455.9" fill="url(#cbar)"/>
<path d="M648.4,12.3 L648.4,468.2 L623.6,468.2" fill="none" stroke="#555" stroke-width="1.3"/>
<line x1="623.6" y1="468.2" x2="627.1" y2="468.2" stroke="#444" stroke-width="1.3"/>
<line x1="644.9" y1="468.2" x2="648.4" y2="468.2" stroke="#444" stroke-width="1.3"/>
<text transform="translate(650.2,478.5) scale(0.88,1)" font-size="27" class="th">0</text>
<line x1="623.6" y1="422.6" x2="627.1" y2="422.6" stroke="#444" stroke-width="1.3"/>
<line x1="644.9" y1="422.6" x2="648.4" y2="422.6" stroke="#444" stroke-width="1.3"/>
<text transform="translate(650.2,432.9) scale(0.88,1)" font-size="27" class="th">0.</text>
<path d="M677.76,432.91 L677.76,413.58 M677.86,414.01 Q675.96,416.71 672.75,418.20" fill="none" stroke="#141414" stroke-width="2.23"/>
<line x1="623.6" y1="377.0" x2="627.1" y2="377.0" stroke="#444" stroke-width="1.3"/>
<line x1="644.9" y1="377.0" x2="648.4" y2="377.0" stroke="#444" stroke-width="1.3"/>
<text transform="translate(650.2,387.3) scale(0.88,1)" font-size="27" class="th">0.2</text>
<line x1="623.6" y1="331.4" x2="627.1" y2="331.4" stroke="#444" stroke-width="1.3"/>
<line x1="644.9" y1="331.4" x2="648.4" y2="331.4" stroke="#444" stroke-width="1.3"/>
<text transform="translate(650.2,341.7) scale(0.88,1)" font-size="27" class="th">0.3</text>
<line x1="623.6" y1="285.8" x2="627.1" y2="285.8" stroke="#444" stroke-width="1.3"/>
<line x1="644.9" y1="285.8" x2="648.4" y2="285.8" stroke="#444" stroke-width="1.3"/>
<text transform="translate(650.2,296.1) scale(0.88,1)" font-size="27" class="th">0.4</text>
<line x1="623.6" y1="240.2" x2="627.1" y2="240.2" stroke="#444" stroke-width="1.3"/>
<line x1="644.9" y1="240.2" x2="648.4" y2="240.2" stroke="#444" stroke-width="1.3"/>
<text transform="translate(650.2,250.6) scale(0.88,1)" font-size="27" class="th">0.5</text>
<line x1="623.6" y1="194.7" x2="627.1" y2="194.7" stroke="#444" stroke-width="1.3"/>
<line x1="644.9" y1="194.7" x2="648.4" y2="194.7" stroke="#444" stroke-width="1.3"/>
<text transform="translate(650.2,205.0) scale(0.88,1)" font-size="27" class="th">0.6</text>
<line x1="623.6" y1="149.1" x2="627.1" y2="149.1" stroke="#444" stroke-width="1.3"/>
<line x1="644.9" y1="149.1" x2="648.4" y2="149.1" stroke="#444" stroke-width="1.3"/>
<text transform="translate(650.2,159.4) scale(0.88,1)" font-size="27" class="th">0.7</text>
<line x1="623.6" y1="103.5" x2="627.1" y2="103.5" stroke="#444" stroke-width="1.3"/>
<line x1="644.9" y1="103.5" x2="648.4" y2="103.5" stroke="#444" stroke-width="1.3"/>
<text transform="translate(650.2,113.8) scale(0.88,1)" font-size="27" class="th">0.8</text>
<line x1="623.6" y1="57.9" x2="627.1" y2="57.9" stroke="#444" stroke-width="1.3"/>
<line x1="644.9" y1="57.9" x2="648.4" y2="57.9" stroke="#444" stroke-width="1.3"/>
<text transform="translate(650.2,68.2) scale(0.88,1)" font-size="27" class="th">0.9</text>
<line x1="623.6" y1="12.3" x2="627.1" y2="12.3" stroke="#444" stroke-width="1.3"/>
<line x1="644.9" y1="12.3" x2="648.4" y2="12.3" stroke="#444" stroke-width="1.3"/>
<path d="M657.95,22.60 L657.95,3.27 M658.04,3.70 Q656.14,6.40 652.93,7.89" fill="none" stroke="#141414" stroke-width="2.23"/>
<text x="79.95" y="39.9" font-size="26">(a)</text>
<text x="383.45" y="39.800000000000004" font-size="26">(b)</text>
<text x="80.15" y="299.40000000000003" font-size="26">(c)</text>
<text x="383.55" y="299.5" font-size="26">(d)</text>
<text x="235" y="34" font-size="19.5" fill="#303030" class="th" stroke="#303030">QTMC</text>
<text x="518.9" y="33.7" font-size="19.5" fill="#303030" class="th">GQTMC</text>
<path d="M235.39999999999998,44.0 L224.79999999999998,62.900000000000006" stroke="#303030" stroke-width="2.3" fill="none" stroke-linecap="round"/><path d="M221.6,46.2 C223.2,43.800000000000004 225.79999999999998,43.9 226.79999999999998,47.6 L228.6,55.1" stroke="#303030" stroke-width="1.7" fill="none" stroke-linecap="round"/>
<text x="237" y="57.2" font-size="20.5" fill="#303030" class="th">=0.55</text>
<path d="M233.0,304.0 L222.4,322.90000000000003" stroke="#303030" stroke-width="2.3" fill="none" stroke-linecap="round"/><path d="M219.20000000000002,306.20000000000005 C220.8,303.8 223.4,303.90000000000003 224.4,307.6 L226.20000000000002,315.1" stroke="#303030" stroke-width="1.7" fill="none" stroke-linecap="round"/>
<text x="234.6" y="317" font-size="20.5" fill="#303030" class="th">=1.19</text>
<text x="285.019" y="535.2" font-size="20.5">P</text>
<line x1="300.5" y1="540" x2="311.5" y2="540" stroke="#141414" stroke-width="1.2"/><line x1="306.0" y1="540" x2="306.0" y2="530" stroke="#141414" stroke-width="1.2"/>
<text x="313.2" y="536.5" font-size="26" fill="#141414">/</text>
<text x="323.27500000000003" y="535.5" font-size="20.5">2</text>
<path d="M335.7,527.5 L337.6,526.3 L342.8,537.2 L348.6,514.5 L378,514.5" fill="none" stroke="#141414" stroke-width="1.5" stroke-linejoin="miter"/>
<text x="350" y="535.8" font-size="24" class="si">U</text>
<text x="368.5" y="540.6" font-size="16" class="si">P</text>
<g transform="translate(22.5,313.2) rotate(-90)"><text x="-1.681" y="0" font-size="20.5">P</text><text x="11.2" y="5.1" font-size="13">z</text><text x="18.5" y="1.5" font-size="24" fill="#141414">/</text><text x="26.700000000000003" y="0" font-size="18">2</text><path d="M39.7,-8.5 L41.3,-9.6 L45.8,1.2 L52.4,-20.3 L81,-20.3" fill="none" stroke="#141414" stroke-width="1.4"/><text x="55.4" y="0" font-size="21.5" class="sr">U</text><text x="71.5" y="5.1" font-size="16" class="sr">P</text></g></g>
</svg>
</body></html>
